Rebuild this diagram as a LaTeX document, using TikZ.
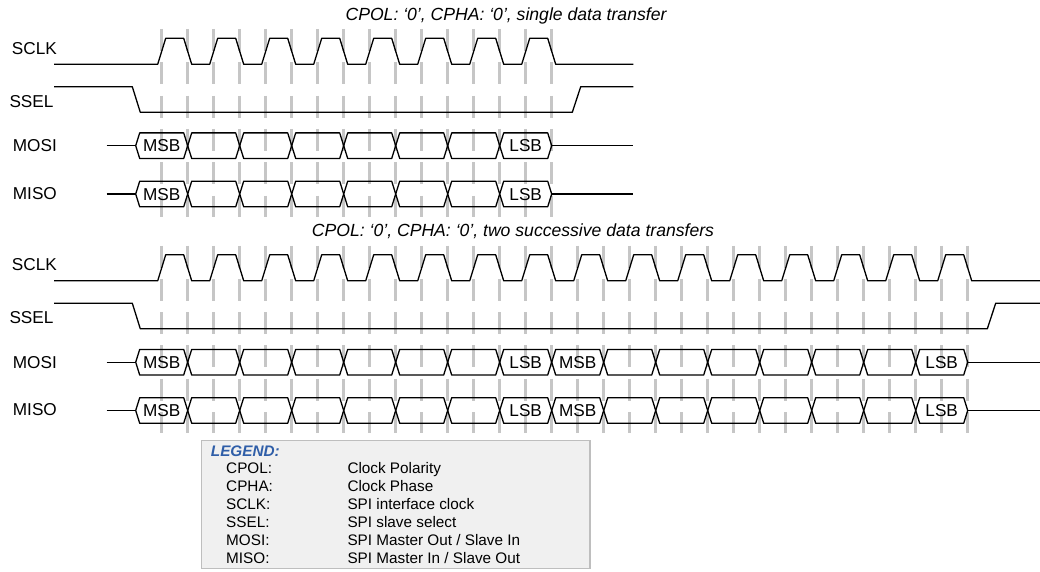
\documentclass[tikz,border=0pt]{standalone}
\usepackage{fontspec}
\setmainfont{Liberation Sans}
\usetikzlibrary{positioning}
\definecolor{spiGrid}{HTML}{C6C6C6}
\definecolor{spiBlue}{HTML}{2F5EA8}
\definecolor{spiBox}{HTML}{F0F0F0}
\definecolor{spiFrame}{HTML}{BEBEBE}

\begin{document}
\begin{tikzpicture}[x=1pt,y=-1pt, every node/.style={inner sep=0pt,font=\fontsize{17.2}{20}\selectfont},
  wave/.style={line width=1.3pt,black,line join=round},
  tick/.style={line width=2.6pt,spiGrid,dash pattern=on 22pt off 11.3pt}]
  \useasboundingbox (0,0) rectangle (1040,572);
  % two frames: single transfer, then two successive transfers
  \foreach \i/\oy/\nclk/\xend/\xrise/\tx/\ttl in {1/0/8/633.3/572.3/506/{single data transfer},2/216.5/16/1040/987.3/513/{two successive data transfers}}{
    \pgfmathtruncatemacro\nt{2*\nclk-1}
    \foreach \k in {0,...,\nt} \draw[tick] ({161.7+26*\k},{29+\oy}) -- ++(0,187.5);
    \node[anchor=base,font=\fontsize{17.6}{20}\selectfont\itshape] (title\i) at (\tx,{20.3+\oy}) {CPOL: ‘0’, CPHA: ‘0’, \ttl};
    \node[anchor=base west] (sclk\i) at (11.7,{54.2+\oy}) {SCLK};
    \node[anchor=base west] (ssel\i) at (9.3,{107.2+\oy}) {SSEL};
    \node[anchor=base west] (mosi\i) at (12.7,{151.6+\oy}) {MOSI};
    \node[anchor=base west] (miso\i) at (12.7,{199+\oy}) {MISO};
    % clock
    \draw[wave] (54,{64.3+\oy}) \foreach \p in {1,...,\nclk}{ -- ({105.7+52*\p},{64.3+\oy}) -- ++(8,-26) -- ++(18,0) -- ++(8,26)} -- (\xend,{64.3+\oy});
    % slave select
    \draw[wave] (54,{86.7+\oy}) -- (132.3,{86.7+\oy}) -- (140.3,{112.3+\oy}) -- (\xrise,{112.3+\oy}) -- ({\xrise+8.4},{86.7+\oy}) -- (\xend,{86.7+\oy});
    % data lines
    \foreach \c/\s in {145.7/mosi,194/miso}{
      \draw[wave] (106.7,{\c+\oy}) -- (135.7,{\c+\oy});
      \foreach \j in {1,...,\nclk}
        \draw[wave] ({83.7+52*\j},{\c+\oy}) -- ++(4,-12.8) -- ++(44,0) -- ++(4,12.8) -- ++(-4,12.8) -- ++(-44,0) -- cycle;
      \draw[wave] ({135.7+52*\nclk},{\c+\oy}) -- (\xend,{\c+\oy});
      \foreach \j in {0,8}{
        \ifnum\j<\nclk\relax
          \node[anchor=base] (\s\i msb\j) at ({161.7+52*\j},{\c+6.2+\oy}) {MSB};
          \node[anchor=base] (\s\i lsb\j) at ({525.7+52*\j},{\c+6.2+\oy}) {LSB};
        \fi}
    }
  }
  % legend
  \draw[fill=spiBox,draw=spiFrame,line width=1.3pt] (201.7,440.7) rectangle (590,568.3);
  \node[anchor=base west,font=\fontsize{15.3}{18}\selectfont\bfseries\itshape,text=spiBlue] (legend) at (210.7,456) {LEGEND:};
  \foreach \r/\ab/\txt in {0/CPOL:/{Clock Polarity},1/CPHA:/{Clock Phase},2/SCLK:/{SPI interface clock},3/SSEL:/{SPI slave select},4/MOSI:/{SPI Master Out / Slave In},5/MISO:/{SPI Master In / Slave Out}}{
    \node[anchor=base west,font=\fontsize{15.3}{18}\selectfont] (abbr\r) at (226,{473.2+18.1*\r}) {\ab};
    \node[anchor=base west,font=\fontsize{15.3}{18}\selectfont] (desc\r) at (347.3,{473.2+18.1*\r}) {\txt};
  }
\end{tikzpicture}
\end{document}
